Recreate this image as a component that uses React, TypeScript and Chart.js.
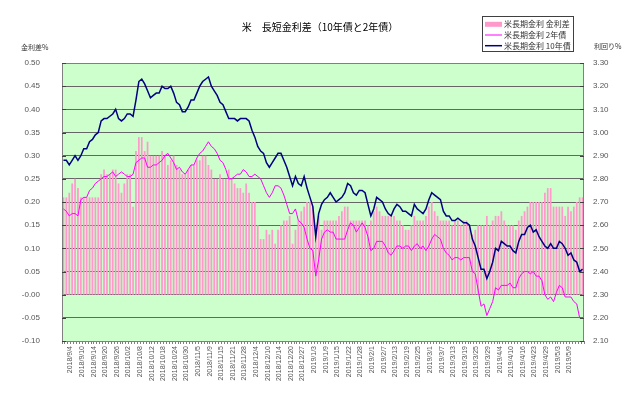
import React, { useEffect, useRef } from 'react';
import { Chart, registerables } from 'chart.js';

Chart.register(...registerables);

const TITLE = '米　長短金利差（10年債と2年債）';
const LEFT_AXIS_TITLE = '金利差%';
const RIGHT_AXIS_TITLE = '利回り%';
const SERIES_NAMES = ['米長期金利 金利差', '米長期金利 2年債', '米長期金利 10年債'];

const START_DATE = '2018-09-04';
const POINT_COUNT = 180;
const LAST_LABELED_INDEX = 172;
const HOLIDAYS = ['2018-11-22', '2018-12-25', '2019-01-01', '2019-01-21', '2019-04-19'];

// 米長期金利 10年債 (右軸, %)
const T10 = [
  2.88, 2.88, 2.86, 2.88, 2.90, 2.88, 2.90, 2.93, 2.93, 2.96,
  2.97, 2.99, 3.00, 3.05, 3.06, 3.06, 3.07, 3.08, 3.10, 3.06,
  3.05, 3.06, 3.08, 3.08, 3.07, 3.14, 3.22, 3.23, 3.21, 3.18,
  3.15, 3.16, 3.17, 3.17, 3.20, 3.19, 3.19, 3.20, 3.17, 3.13,
  3.12, 3.09, 3.09, 3.11, 3.14, 3.14, 3.17, 3.20, 3.22, 3.23,
  3.24, 3.20, 3.18, 3.16, 3.13, 3.12, 3.09, 3.06, 3.06, 3.06,
  3.05, 3.06, 3.06, 3.06, 3.05, 3.01, 2.98, 2.94, 2.92, 2.91,
  2.87, 2.85, 2.87, 2.89, 2.91, 2.91, 2.88, 2.85, 2.81, 2.77,
  2.81, 2.78, 2.77, 2.81, 2.76, 2.72, 2.68, 2.55, 2.65, 2.69,
  2.71, 2.72, 2.74, 2.72, 2.70, 2.71, 2.72, 2.74, 2.78, 2.77,
  2.74, 2.73, 2.75, 2.75, 2.74, 2.69, 2.64, 2.67, 2.72, 2.71,
  2.70, 2.67, 2.65, 2.64, 2.67, 2.69, 2.68, 2.66, 2.66, 2.65,
  2.64, 2.69, 2.67, 2.66, 2.65, 2.67, 2.71, 2.74, 2.73, 2.72,
  2.71, 2.66, 2.64, 2.64, 2.62, 2.62, 2.63, 2.62, 2.61, 2.61,
  2.60, 2.54, 2.51, 2.46, 2.41, 2.41, 2.37, 2.40, 2.44, 2.50,
  2.49, 2.53, 2.52, 2.51, 2.51, 2.49, 2.48, 2.53, 2.56, 2.56,
  2.59, 2.60, 2.57, 2.58, 2.55, 2.53, 2.51, 2.50, 2.52, 2.50,
  2.50, 2.53, 2.52, 2.50, 2.47, 2.48, 2.45, 2.44, 2.40, 2.41,
];

// 米長期金利 2年債 (右軸, %)
const T2 = [
  2.67, 2.66, 2.64, 2.65, 2.65, 2.64, 2.71, 2.72, 2.72, 2.75,
  2.76, 2.78, 2.79, 2.80, 2.81, 2.81, 2.82, 2.83, 2.81, 2.82,
  2.83, 2.82, 2.81, 2.81, 2.82, 2.87, 2.88, 2.89, 2.89, 2.85,
  2.85, 2.86, 2.86, 2.87, 2.88, 2.90, 2.91, 2.89, 2.87, 2.84,
  2.85, 2.83, 2.82, 2.84, 2.86, 2.86, 2.89, 2.91, 2.92, 2.94,
  2.96, 2.94, 2.93, 2.91, 2.88, 2.87, 2.84, 2.80, 2.80, 2.81,
  2.82, 2.82, 2.84, 2.83, 2.81, 2.81, 2.82, 2.81, 2.80, 2.77,
  2.74, 2.72, 2.74, 2.77, 2.77, 2.76, 2.73, 2.69, 2.65, 2.65,
  2.67, 2.62, 2.61, 2.59, 2.54, 2.50, 2.49, 2.38, 2.45, 2.54,
  2.57, 2.58, 2.57, 2.57, 2.54, 2.54, 2.54, 2.54, 2.58, 2.61,
  2.60, 2.57, 2.59, 2.61, 2.59, 2.55, 2.49, 2.50, 2.53, 2.53,
  2.53, 2.51, 2.48, 2.47, 2.49, 2.51, 2.51, 2.50, 2.51, 2.51,
  2.49, 2.51, 2.52, 2.50, 2.51, 2.49, 2.51, 2.54, 2.56, 2.55,
  2.54, 2.50, 2.48, 2.47, 2.45, 2.46, 2.46, 2.45, 2.46, 2.46,
  2.46, 2.40, 2.39, 2.32, 2.25, 2.26, 2.21, 2.24, 2.27, 2.33,
  2.32, 2.34, 2.34, 2.34, 2.35, 2.33, 2.33, 2.37, 2.39, 2.40,
  2.40, 2.39, 2.40, 2.38, 2.38, 2.36, 2.30, 2.28, 2.29, 2.27,
  2.31, 2.34, 2.33, 2.29, 2.29, 2.29, 2.27, 2.26, 2.20, 2.20,
];

// 米長期金利 金利差 (左軸, %)
const SPREAD = [
  0.21, 0.21, 0.22, 0.24, 0.25, 0.23, 0.21, 0.21, 0.21, 0.21,
  0.21, 0.21, 0.21, 0.26, 0.27, 0.26, 0.26, 0.27, 0.27, 0.24,
  0.22, 0.24, 0.26, 0.26, 0.19, 0.31, 0.34, 0.34, 0.31, 0.33,
  0.30, 0.30, 0.30, 0.30, 0.31, 0.30, 0.28, 0.29, 0.30, 0.28,
  0.27, 0.26, 0.26, 0.27, 0.28, 0.28, 0.29, 0.29, 0.30, 0.30,
  0.28, 0.27, 0.25, 0.25, 0.26, 0.25, 0.25, 0.27, 0.25, 0.24,
  0.23, 0.23, 0.22, 0.24, 0.22, 0.20, 0.20, 0.15, 0.12, 0.12,
  0.14, 0.13, 0.14, 0.11, 0.14, 0.15, 0.16, 0.16, 0.17, 0.11,
  0.14, 0.16, 0.18, 0.19, 0.20, 0.20, 0.19, 0.15, 0.17, 0.14,
  0.16, 0.16, 0.16, 0.16, 0.16, 0.17, 0.18, 0.19, 0.19, 0.16,
  0.16, 0.16, 0.16, 0.16, 0.16, 0.15, 0.16, 0.18, 0.19, 0.18,
  0.17, 0.17, 0.17, 0.17, 0.17, 0.16, 0.16, 0.15, 0.14, 0.14,
  0.15, 0.17, 0.16, 0.16, 0.16, 0.17, 0.19, 0.20, 0.18, 0.17,
  0.16, 0.16, 0.16, 0.16, 0.15, 0.16, 0.16, 0.15, 0.16, 0.16,
  0.15, 0.13, 0.14, 0.15, 0.15, 0.15, 0.17, 0.15, 0.16, 0.17,
  0.17, 0.18, 0.16, 0.15, 0.15, 0.15, 0.14, 0.16, 0.17, 0.18,
  0.19, 0.20, 0.20, 0.20, 0.20, 0.20, 0.22, 0.23, 0.23, 0.19,
  0.19, 0.19, 0.19, 0.17, 0.19, 0.18, 0.19, 0.20, 0.21, 0.21,
];

function buildDates(): string[] {
  const out: string[] = [];
  const d = new Date(START_DATE + 'T00:00:00Z');
  while (out.length < POINT_COUNT) {
    const dow = d.getUTCDay();
    const iso = d.toISOString().slice(0, 10);
    if (dow !== 0 && dow !== 6 && !HOLIDAYS.includes(iso)) {
      out.push(`${d.getUTCFullYear()}/${d.getUTCMonth() + 1}/${d.getUTCDate()}`);
    }
    d.setUTCDate(d.getUTCDate() + 1);
  }
  return out;
}

const DATES = buildDates();
const LABEL_EVERY = 4;

const JP = '"Noto Sans CJK JP", "Noto Sans", sans-serif';
const TICK_FONT = '"Liberation Sans", Arial, sans-serif';

const decorPlugin = {
  id: 'decor',
  beforeDraw(chart: any) {
    const { ctx, chartArea: a } = chart;
    ctx.save();
    ctx.fillStyle = '#FFFFFF';
    ctx.fillRect(0, 0, chart.width, chart.height);
    ctx.fillStyle = '#CCFFCC';
    ctx.fillRect(a.left, a.top, a.right - a.left, a.bottom - a.top);
    ctx.restore();
  },
  afterDraw(chart: any) {
    const { ctx, chartArea: a } = chart;
    ctx.save();
    // plot border
    ctx.strokeStyle = '#808080';
    ctx.lineWidth = 1;
    ctx.strokeRect(Math.round(a.left) + 0.5, Math.round(a.top) + 0.5, Math.round(a.right - a.left) - 1, Math.round(a.bottom - a.top));
    // inner tick marks on y axes
    const yl = chart.scales.y;
    const yr = chart.scales.y1;
    ctx.strokeStyle = '#404040';
    yl.ticks.forEach((_t: any, i: number) => {
      const py = Math.round(yl.getPixelForTick(i)) + 0.5;
      ctx.beginPath();
      ctx.moveTo(a.left, py);
      ctx.lineTo(a.left + 4, py);
      ctx.stroke();
    });
    yr.ticks.forEach((_t: any, i: number) => {
      const py = Math.round(yr.getPixelForTick(i)) + 0.5;
      ctx.beginPath();
      ctx.moveTo(a.right - 4, py);
      ctx.lineTo(a.right, py);
      ctx.stroke();
    });

    // title
    ctx.fillStyle = '#000000';
    ctx.font = `10px ${JP}`;
    ctx.textAlign = 'center';
    ctx.textBaseline = 'middle';
    ctx.fillText(TITLE, 320, 27);

    // axis titles
    ctx.font = `7px ${JP}`;
    ctx.fillStyle = '#333333';
    ctx.textAlign = 'left';
    ctx.fillText(LEFT_AXIS_TITLE, 21, 47);
    ctx.fillText(RIGHT_AXIS_TITLE, 594, 46);

    // legend
    const bx = 482.5, by = 16.5, bw = 91, bh = 35;
    ctx.fillStyle = '#FFFFFF';
    ctx.fillRect(bx, by, bw, bh);
    ctx.strokeStyle = '#404040';
    ctx.lineWidth = 1;
    ctx.strokeRect(bx, by, bw, bh);
    const rows = [24.3, 35, 45.7];
    ctx.fillStyle = '#FF99CC';
    ctx.fillRect(485, rows[0] - 2.5, 17, 5);
    ctx.strokeStyle = '#FF00FF';
    ctx.lineWidth = 1;
    ctx.beginPath();
    ctx.moveTo(485, rows[1]);
    ctx.lineTo(502, rows[1]);
    ctx.stroke();
    ctx.strokeStyle = '#000080';
    ctx.lineWidth = 1.5;
    ctx.beginPath();
    ctx.moveTo(485, rows[2]);
    ctx.lineTo(502, rows[2]);
    ctx.stroke();
    ctx.fillStyle = '#333333';
    ctx.font = `8px ${JP}`;
    ctx.textAlign = 'left';
    ctx.textBaseline = 'middle';
    SERIES_NAMES.forEach((n, i) => ctx.fillText(n, 504, rows[i]));
    ctx.restore();
  },
};

export default function App() {
  const ref = useRef<HTMLCanvasElement>(null);
  useEffect(() => {
    if (!ref.current) return;
    const chart = new Chart(ref.current, {
      type: 'bar',
      data: {
        labels: DATES,
        datasets: [
          {
            type: 'line',
            label: SERIES_NAMES[2],
            data: T10,
            yAxisID: 'y1',
            borderColor: '#000080',
            borderWidth: 1.5,
            pointRadius: 0,
            tension: 0,
            order: 0,
          } as any,
          {
            type: 'line',
            label: SERIES_NAMES[1],
            data: T2,
            yAxisID: 'y1',
            borderColor: '#FF00FF',
            borderWidth: 1,
            pointRadius: 0,
            tension: 0,
            order: 1,
          } as any,
          {
            type: 'bar',
            label: SERIES_NAMES[0],
            data: SPREAD,
            yAxisID: 'y',
            backgroundColor: '#FF99CC',
            borderWidth: 0,
            barPercentage: 0.6,
            categoryPercentage: 1,
            order: 2,
          } as any,
        ],
      },
      options: {
        responsive: false,
        animation: false,
        devicePixelRatio: 1,
        layout: { padding: { top: 63, left: 0, right: 0, bottom: 0 } },
        plugins: {
          legend: { display: false },
          title: { display: false },
          tooltip: { enabled: false },
        },
        scales: {
          x: {
            type: 'category',
            offset: true,
            grid: {
              display: true,
              drawOnChartArea: false,
              drawTicks: true,
              tickLength: 3,
              color: '#808080',
              offset: true,
            },
            border: { display: false },
            ticks: {
              autoSkip: false,
              maxRotation: 90,
              minRotation: 90,
              labelOffset: 7,
              padding: 2,
              color: '#555555',
              font: { size: 7, family: TICK_FONT },
              callback: (_v: any, i: number) =>
                i % LABEL_EVERY === 0 && i <= LAST_LABELED_INDEX ? DATES[i] : '',
            },
            afterFit: (s: any) => {
              s.height = 56;
            },
          },
          y: {
            position: 'left',
            min: -0.1,
            max: 0.5,
            grid: { color: '#666666', drawTicks: false, lineWidth: 1 },
            border: { display: false },
            ticks: {
              stepSize: 0.05,
              padding: 22,
              color: '#555555',
              font: { size: 8, family: TICK_FONT },
              callback: (v: any) => Number(v).toFixed(2),
            },
            afterFit: (s: any) => {
              s.width = 62;
            },
          },
          y1: {
            position: 'right',
            min: 2.1,
            max: 3.3,
            grid: { drawOnChartArea: false, drawTicks: false },
            border: { display: false },
            ticks: {
              stepSize: 0.1,
              padding: 9,
              color: '#555555',
              font: { size: 8, family: TICK_FONT },
              callback: (v: any) => Number(v).toFixed(2),
            },
            afterFit: (s: any) => {
              s.width = 56;
            },
          },
        },
      } as any,
      plugins: [decorPlugin],
    });
    return () => chart.destroy();
  }, []);
  return (
    <div style={{ position: 'fixed', left: 0, top: 0, width: 640, height: 397, background: '#fff' }}>
      <canvas ref={ref} width={640} height={397} style={{ display: 'block', width: 640, height: 397 }} />
    </div>
  );
}
